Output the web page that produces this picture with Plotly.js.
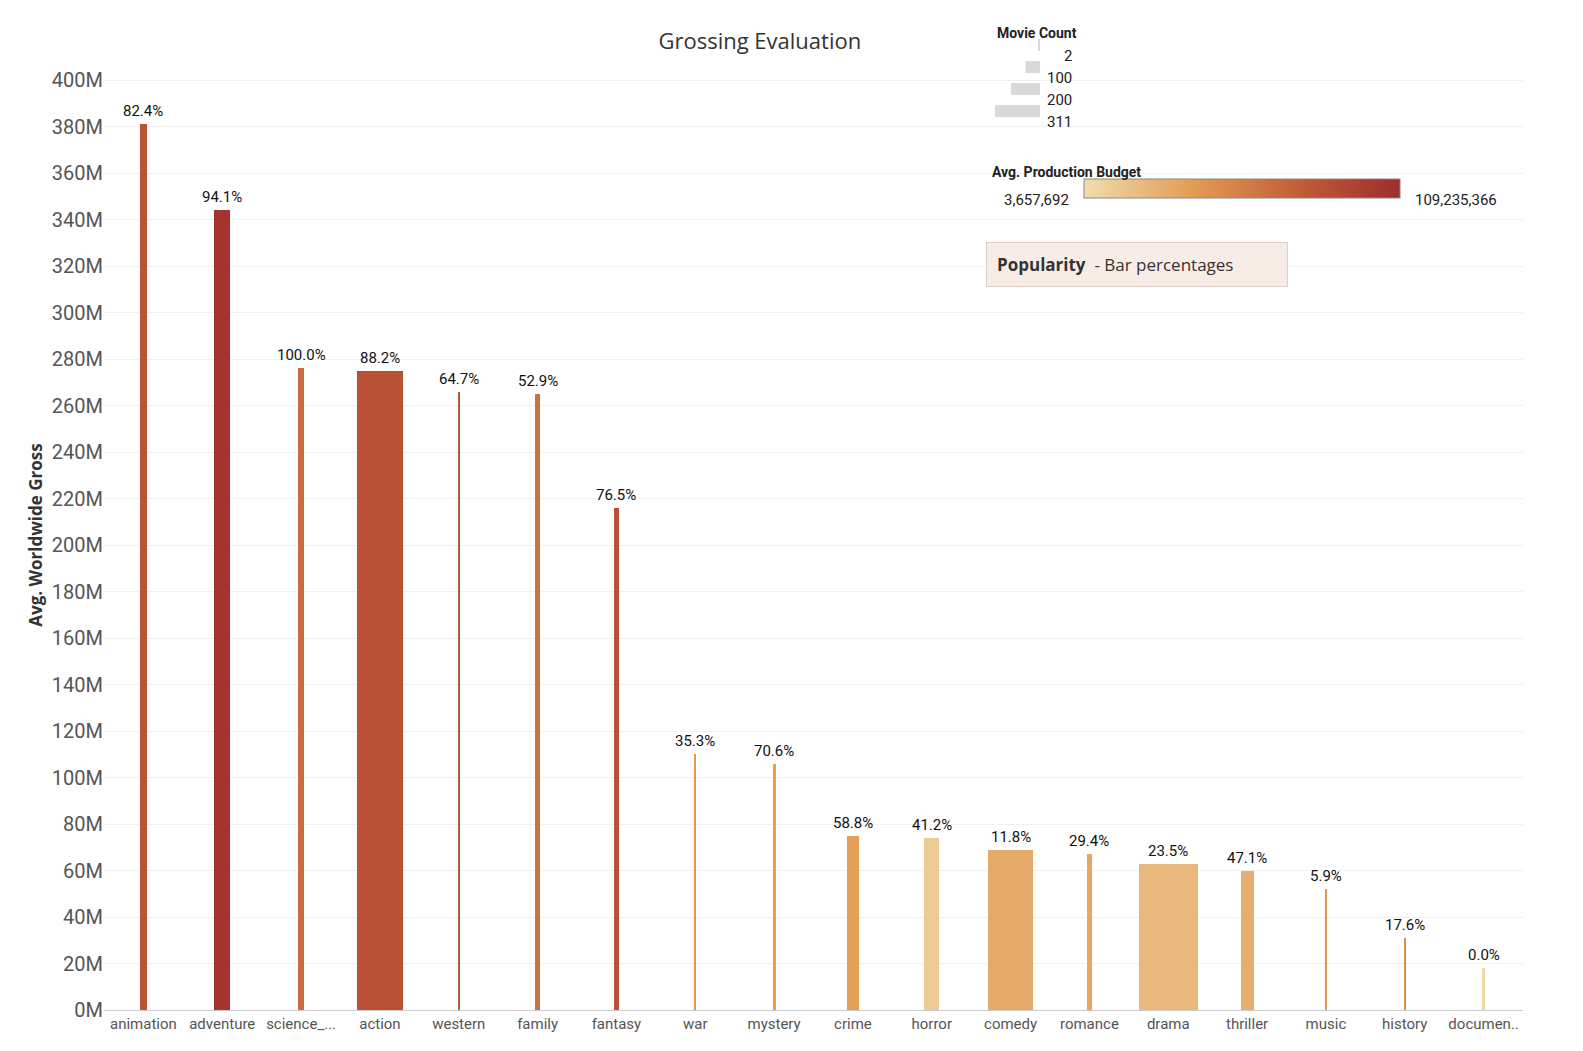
<!DOCTYPE html>
<html>
<head>
<meta charset="utf-8">
<script src="https://cdn.plot.ly/plotly-3.0.1.min.js"></script>
<style>body{margin:0;background:#fff}#chart{width:1583px;height:1051px}</style>
</head>
<body>
<div id="chart"></div>
<script>
var genres = ['animation','adventure','science_...','action','western','family','fantasy','war','mystery','crime','horror','comedy','romance','drama','thriller','music','history','documen..'];
var avgGross = [381e6,344e6,276e6,275e6,266e6,265e6,216e6,110e6,106e6,75e6,74e6,69e6,67e6,63e6,60e6,52e6,31e6,18e6];
var movieCount = [40,85,35,245,12,28,28,8,15,62,80,240,30,311,68,12,12,2];
var avgBudget = [82e6,104e6,68e6,84e6,80e6,64e6,84e6,42e6,38e6,38e6,14e6,32e6,34e6,24e6,30e6,44e6,48e6,6e6];
var popularity = ['82.4%','94.1%','100.0%','88.2%','64.7%','52.9%','76.5%','35.3%','70.6%','58.8%','41.2%','11.8%','29.4%','23.5%','47.1%','5.9%','17.6%','0.0%'];
var budgetMin = 3657692, budgetMax = 109235366;
var legendCounts = [2,100,200,311];

var maxW = 0.75;
var widths = movieCount.map(function(c){ return Math.max(0.025, maxW * c / 311); });

var tickVals = [], tickText = [];
for (var v = 0; v <= 400; v += 20) { tickVals.push(v * 1e6); tickText.push(v + 'M'); }

var scale = [[0,'#f1dcae'],[0.35,'#e39b53'],[0.7,'#bf5a37'],[1,'#9e2d2f']];

var trace = {
  type: 'bar', x: genres, y: avgGross, width: widths,
  marker: {
    color: avgBudget, colorscale: scale, cmin: budgetMin, cmax: budgetMax,
    showscale: true,
    colorbar: {orientation: 'h', x: (1242 - 104) / 1419, xanchor: 'center', y: (1010 - 189) / 950, yanchor: 'middle',
      len: 336, lenmode: 'pixels', thickness: 19, showticklabels: false, ticks: '',
      outlinewidth: 1, outlinecolor: '#888', automargin: false}
  },
  hoverinfo: 'x+y'
};

function px(x){ return (x - 104) / 1419; }
function py(y){ return (1010 - y) / 950; }

var annotations = genres.map(function(g, i){
  return {text: popularity[i], x: g, y: avgGross[i], xref: 'x', yref: 'y', yanchor: 'bottom', xanchor: 'center',
    yshift: 2, showarrow: false, font: {family: 'Roboto, Arial', size: 15, color: '#111'}};
});
annotations.push(
  {text: '<b>Movie Count</b>', xref: 'paper', yref: 'paper', x: px(1037), y: py(23), showarrow: false,
    font: {family: 'Roboto, Arial', size: 14, color: '#222'}},
  {text: '<b>Avg. Production Budget</b>', xref: 'paper', yref: 'paper', x: px(990), xanchor: 'left', y: py(162), showarrow: false,
    font: {family: 'Roboto, Arial', size: 14, color: '#222'}},
  {text: '3,657,692', xref: 'paper', yref: 'paper', x: px(1071), xanchor: 'right', y: py(189), showarrow: false,
    font: {family: 'Roboto, Arial', size: 15, color: '#222'}},
  {text: '109,235,366', xref: 'paper', yref: 'paper', x: px(1413), xanchor: 'left', y: py(189), showarrow: false,
    font: {family: 'Roboto, Arial', size: 15, color: '#222'}}
);
var shapes = [];
legendCounts.forEach(function(c, i){
  var yc = 45 + i * 22, w = Math.max(2, 45 * c / 311);
  shapes.push({type: 'rect', xref: 'paper', yref: 'paper', line: {width: 0}, fillcolor: '#d9d9d9',
    x0: px(1040 - w), x1: px(1040), y0: py(yc + 6), y1: py(yc - 6)});
  annotations.push({text: String(c), xref: 'paper', yref: 'paper', xanchor: 'right',
    x: px(1074), y: py(yc), showarrow: false,
    font: {family: 'Roboto, Arial', size: 15, color: '#222'}});
});
annotations.push({text: '<b>Popularity</b>  - Bar percentages', xref: 'paper', yref: 'paper',
  x: px(986), xanchor: 'left', y: py(242), showarrow: false, align: 'left',
  bgcolor: '#f8ede6', bordercolor: '#e0cfc6', borderwidth: 1, borderpad: 10, width: 280,
  font: {family: 'Open Sans, Arial', size: 17, color: '#333'}});

var layout = {
  width: 1583, height: 1051,
  margin: {l: 104, r: 60, t: 60, b: 41, autoexpand: false},
  paper_bgcolor: '#fff', plot_bgcolor: '#fff',
  title: {text: 'Grossing Evaluation', x: 0.48, y: 0.968, font: {family: 'Open Sans, Arial', size: 22, color: '#333'}},
  showlegend: false, bargap: 0,
  xaxis: {tickfont: {family: 'Roboto, Arial', size: 15, color: '#555'}, showline: true, linecolor: '#ccc', ticks: ''},
  yaxis: {range: [0, 408.6e6], tickvals: tickVals, ticktext: tickText,
    tickfont: {family: 'Roboto, Arial', size: 20, color: '#555'},
    gridcolor: '#f1f1f1', zeroline: false,
    title: {text: '<b>Avg. Worldwide Gross</b>', standoff: 4, font: {family: 'Open Sans, Arial', size: 17, color: '#333'}}},
  annotations: annotations, shapes: shapes
};

Plotly.newPlot('chart', [trace], layout, {displayModeBar: false});
</script>
</body>
</html>
